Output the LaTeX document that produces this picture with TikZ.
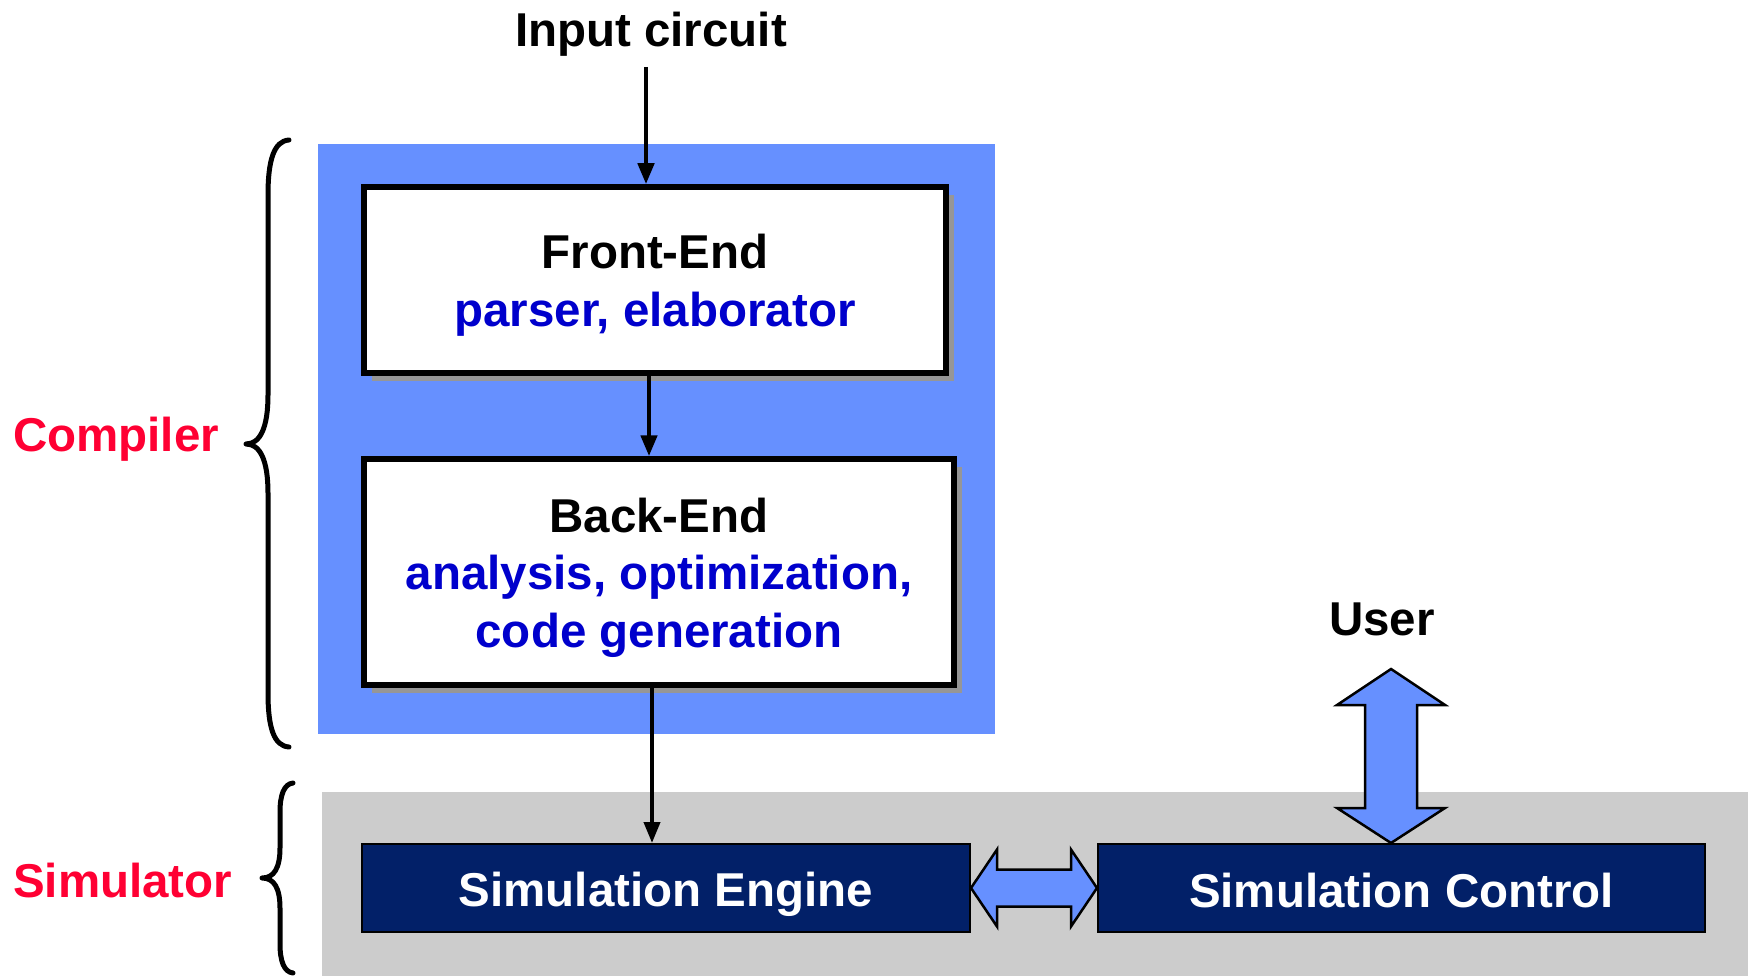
\documentclass[tikz,border=0pt]{standalone}
\usepackage{fontspec}
\setmainfont{Liberation Sans}
\usetikzlibrary{arrows.meta,shadows,calc}
\definecolor{bgblue}{RGB}{102,144,255}
\definecolor{navy}{RGB}{2,32,104}
\definecolor{txtblue}{RGB}{0,0,204}
\definecolor{lblred}{RGB}{255,0,51}
\definecolor{simgray}{RGB}{204,204,204}
\definecolor{shadowgray}{RGB}{150,150,150}
\newcommand\topstrut{\rule{0pt}{47.5pt}}
\newcommand\botstrut{\rule[-12pt]{0pt}{0pt}}
\newcommand\simstrut{\rule[-10pt]{0pt}{58pt}}
\begin{document}
\begin{tikzpicture}[x=1pt,y=-1pt,
  every node/.style={font=\fontsize{47.5}{57.5}\selectfont\bfseries, inner sep=0pt},
  stagebox/.style={draw=black, line width=5.5pt, fill=white, align=center,
    drop shadow={shadow xshift=8pt, shadow yshift=-8pt, fill=shadowgray, opacity=1}},
  simbox/.style={draw=black, line width=2pt, fill=navy, text=white,
    minimum height=88pt},
  flow/.style={line width=4.5pt, -{Triangle[length=21pt,width=16pt]}},
  fatarrow/.style={draw=black, line width=2.5pt, fill=bgblue, line join=miter},
  bracestyle/.style={line width=5pt, line cap=round, line join=round},
  sidelabel/.style={text=lblred, anchor=base west},
]
\useasboundingbox (0,0) rectangle (1751,976);
\fill[white] (0,0) rectangle (1751,976);

% background panels
\fill[bgblue] (318,144) rectangle (995,734);
\fill[simgray] (322,792) rectangle (1748,976);

% boxes
\node[stagebox, minimum width=582pt, minimum height=186pt] (fe) at (655,280)
  {\topstrut Front-End\\\textcolor{txtblue}{parser, elaborator}\botstrut};
\node[stagebox, minimum width=590pt, minimum height=226pt] (be) at (659,572)
  {\topstrut Back-End\\\textcolor{txtblue}{analysis, optimization,}\\\textcolor{txtblue}{code generation}\botstrut};
\node[simbox, minimum width=608pt] (se) at (666,888) {\simstrut Simulation Engine};
\node[simbox, minimum width=607pt] (sc) at (1401.5,888) {\simstrut Simulation Control};

% labels
\node[anchor=base] (inp) at (651,47) {Input circuit};
\node[anchor=base] (user) at (1382,635) {User};
\node[sidelabel] (comp) at (13,451) {Compiler};
\node[sidelabel] (sim) at (13,897) {Simulator};

% flow arrows
\coordinate (instart) at (646,67);
\draw[flow] (instart) -- (instart |- fe.north);
\coordinate (fb) at (649,0);
\draw[flow] (fb |- fe.south) -- (fb |- be.north);
\coordinate (bs) at (652,0);
\draw[flow, line width=4pt] (bs |- be.south) -- (bs |- se.north);

% horizontal double arrow between engine and control
\coordinate (hl) at (se.east);
\coordinate (hr) at (sc.west);
\draw[fatarrow] (hl) -- ++(26,-38.5) -- ++(0,20) -- ($(hr)+(-26,-18.5)$) -- ++(0,-20) -- (hr)
  -- ++(-26,38.5) -- ++(0,-20) -- ($(hl)+(26,18.5)$) -- ++(0,20) -- cycle;

% vertical double arrow between user and control
\coordinate (vt) at (1391,669);
\coordinate (vb) at (vt |- sc.north);
\draw[fatarrow] (vt) -- ++(54,36) -- ++(-28,0) -- ($(vb)+(26,-35)$) -- ++(28,0) -- (vb)
  -- ++(-54,-35) -- ++(28,0) -- ($(vt)+(-26,36)$) -- ++(-28,0) -- cycle;

% braces
\draw[bracestyle] (289,140) .. controls (274,141) and (268,160) .. (268,195)
  -- (268,395) .. controls (268,428) and (260,444) .. (246,444)
  .. controls (260,444) and (268,460) .. (268,493)
  -- (268,693) .. controls (268,728) and (274,746) .. (289,747);
\draw[bracestyle] (293,783) .. controls (284,784) and (280,795) .. (280,812)
  -- (280,848) .. controls (280,868) and (274,878) .. (262,878)
  .. controls (274,878) and (280,888) .. (280,908)
  -- (280,944) .. controls (280,961) and (284,972) .. (293,973);
\end{tikzpicture}
\end{document}
